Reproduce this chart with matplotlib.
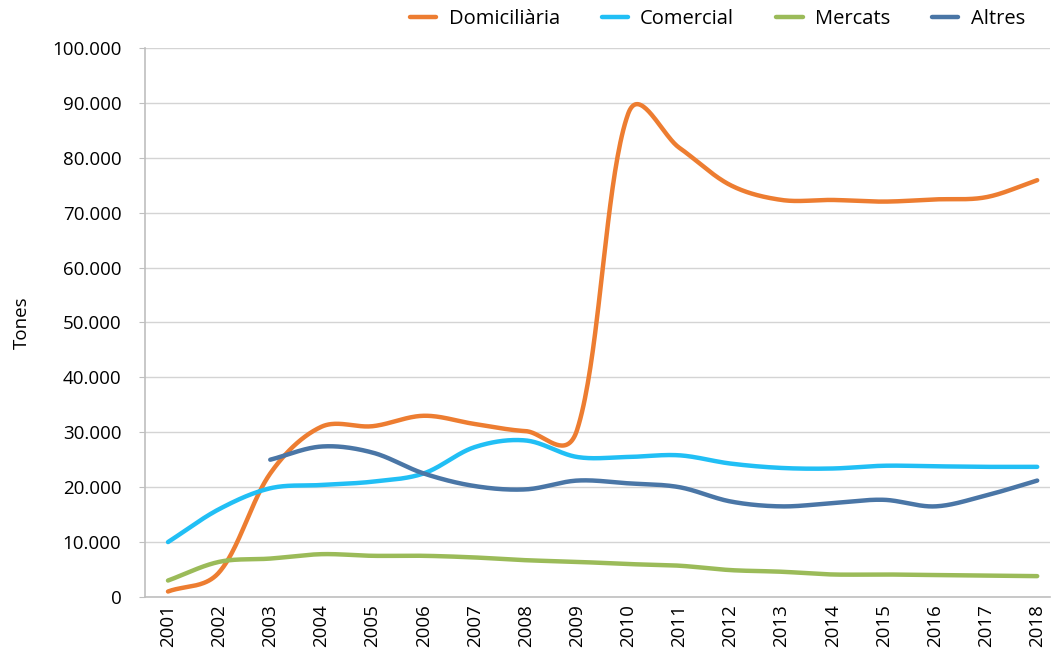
import numpy as np
import matplotlib.pyplot as plt
from matplotlib.ticker import FuncFormatter, MultipleLocator

# ====== Dades ======
anys = list(range(2001, 2019))

domiciliaria = [1000, 4500, 22500, 31000, 31100, 33000, 31500, 30200, 30400,
                88000, 81800, 75000, 72300, 72300, 72000, 72400, 72800, 75900]
comercial = [10000, 16000, 19800, 20400, 21000, 22500, 27300, 28500, 25500,
             25500, 25800, 24300, 23500, 23400, 23900, 23800, 23700, 23700]
mercats = [3000, 6400, 7000, 7800, 7500, 7500, 7200, 6700, 6400,
           6000, 5700, 4900, 4600, 4100, 4100, 4000, 3900, 3800]
# Altres comença el 2003
anys_altres = list(range(2003, 2019))
altres = [25000, 27400, 26300, 22500, 20200, 19600, 21200, 20700, 20000,
          17400, 16500, 17100, 17700, 16500, 18500, 21200]

series = [
    ("Domiciliària", anys, domiciliaria, "#ED7D31"),
    ("Comercial", anys, comercial, "#21BFF5"),
    ("Mercats", anys, mercats, "#9BBB59"),
    ("Altres", anys_altres, altres, "#4A76A6"),
]

# escala aproximada en píxels (any -> px, tona -> px) per suavitzar
SX, SY = 51.1, 549 / 100000
ALFA = 0.5  # barreja entre tangent uniforme i ponderada per trams


def suavitza(x, y, n=40):
    """Corba de Bézier amb tangents parcialment ponderades per la longitud dels trams."""
    px = np.asarray(x, float) * SX
    py = np.asarray(y, float) * SY
    pts = np.column_stack([px, py])
    m = len(pts)
    out = []
    for i in range(m - 1):
        p0 = pts[max(i - 1, 0)]
        p1 = pts[i]
        p2 = pts[i + 1]
        p3 = pts[min(i + 2, m - 1)]
        d01 = np.linalg.norm(p1 - p0)
        d12 = np.linalg.norm(p2 - p1)
        d23 = np.linalg.norm(p3 - p2)
        if i == 0:
            c1 = p1 + (p2 - p1) / 3
        else:
            f = ALFA * 0.5 + (1 - ALFA) * d12 / (d01 + d12)
            c1 = p1 + (p2 - p0) * f / 3
        if i == m - 2:
            c2 = p2 - (p2 - p1) / 3
        else:
            f = ALFA * 0.5 + (1 - ALFA) * d12 / (d12 + d23)
            c2 = p2 - (p3 - p1) * f / 3
        t = np.linspace(0, 1, n, endpoint=(i == m - 2))[:, None]
        seg = ((1 - t) ** 3) * p1 + 3 * t * (1 - t) ** 2 * c1 \
            + 3 * t ** 2 * (1 - t) * c2 + t ** 3 * p2
        out.append(seg)
    out = np.vstack(out)
    return out[:, 0] / SX, out[:, 1] / SY


plt.rcParams['font.family'] = ['Open Sans', 'DejaVu Sans']

fig = plt.figure(figsize=(10.56, 6.58), dpi=100)
ax = fig.add_axes([0.1373, 0.0927, 0.857, 0.8346])

for nom, xx, yy, color in series:
    sx, sy = suavitza(xx, yy)
    ax.plot(sx, sy, color=color, linewidth=3.2, solid_capstyle='round', label=nom)

ax.set_xlim(2000.55, 2018.25)
ax.set_ylim(0, 100000)
ax.yaxis.set_major_locator(MultipleLocator(10000))
ax.yaxis.set_major_formatter(FuncFormatter(lambda v, p: f"{int(v):,}".replace(",", ".")))
ax.set_xticks(anys)
ax.set_xticklabels([str(a) for a in anys], rotation=90)
ax.tick_params(axis='x', length=0, pad=5, labelsize=13.5)
ax.tick_params(axis='y', length=4, color='#BFBFBF', pad=13, labelsize=13.5)

ax.grid(True, axis='y', color='#D4D4D4', linewidth=1)
ax.set_axisbelow(True)
for s in ['top', 'right']:
    ax.spines[s].set_visible(False)
for s in ['left', 'bottom']:
    ax.spines[s].set_color('#BFBFBF')
    ax.spines[s].set_linewidth(1.2)

ax.set_ylabel("Tones", fontsize=13.5, labelpad=15)

fig.legend(loc='center right', bbox_to_anchor=(0.98, 1 - 19 / 658), ncol=4,
           frameon=False, borderpad=0, fontsize=14.5, handlelength=1.3,
           columnspacing=2.1, handletextpad=0.6)

fig.savefig("out.png", dpi=100)
